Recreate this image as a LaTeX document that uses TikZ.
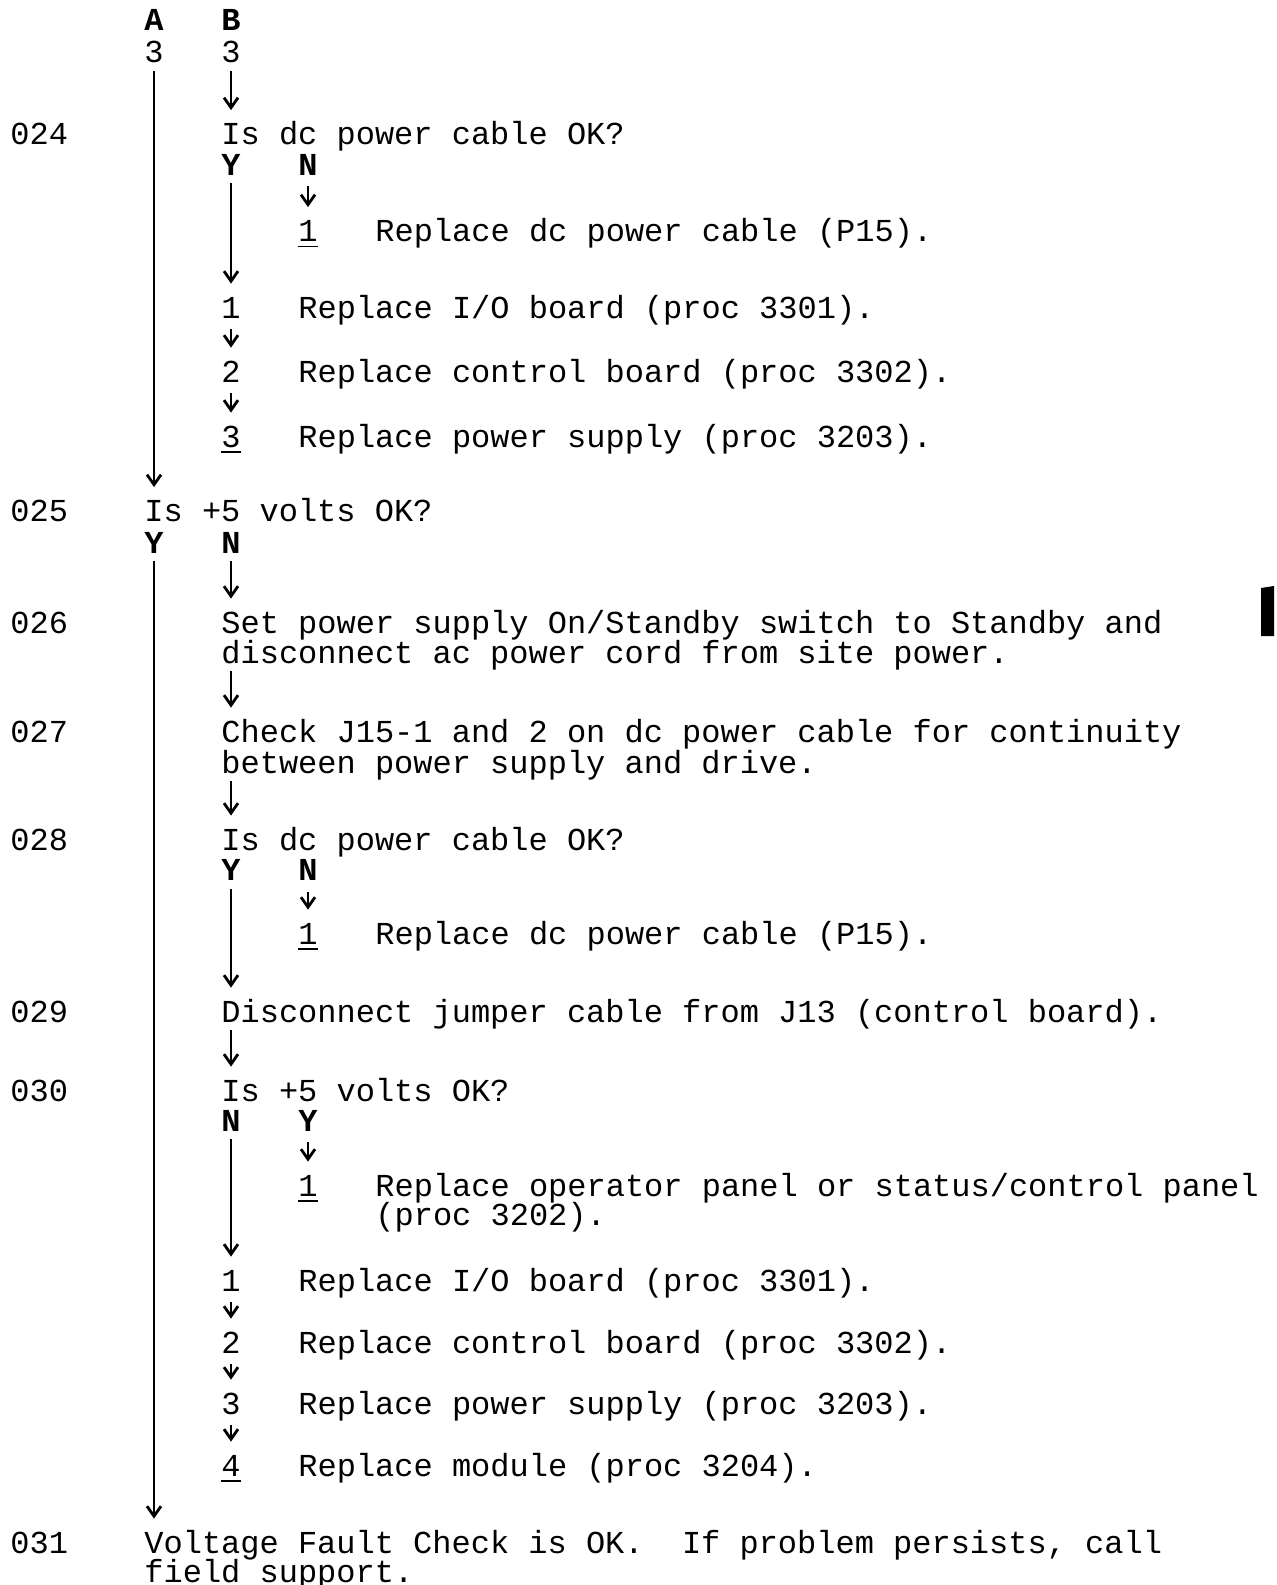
\documentclass[tikz,border=0pt]{standalone}
\usepackage{fontspec}
\setmainfont{Liberation Mono}
\usetikzlibrary{arrows.meta}
\newcommand{\ulnum}[1]{\rlap{\rule[-2.8pt]{0.6em}{0.7pt}}#1}
\tikzset{
  txt/.style={anchor=base west,inner sep=0pt,text height=11pt,text depth=3pt,
    font=\fontsize{16pt}{15pt}\selectfont},
  yn/.style={txt,font=\fontsize{16pt}{15pt}\selectfont\bfseries},
  flow/.style={draw,line width=1.4pt,-{Straight Barb[length=5pt,width=7pt]},
    shorten <=1pt,shorten >=6pt},
  stepflow/.style={flow,shorten <=2.5pt,shorten >=6pt},
}
\frenchspacing
\begin{document}
\begin{tikzpicture}[x=0.5pt,y=-0.5pt]
\useasboundingbox[fill=white] (0,0) rectangle (1277,1585);

% step numbers
\node[txt] (l024) at (10,144.5) {024};
\node[txt] (l025) at (10,521.5) {025};
\node[txt] (l026) at (10,633) {026};
\node[txt] (l027) at (10,742) {027};
\node[txt] (l028) at (10,850) {028};
\node[txt] (l029) at (10,1022) {029};
\node[txt] (l030) at (10,1101) {030};
\node[txt] (l031) at (10,1553) {031};

% entry points
\node[yn] (pa) at (144,30) {A};
\node[yn] (pb) at (221,30) {B};
\node[txt] (a3) at (144,62.5) {3};
\node[txt] (b3) at (221,62.5) {3};

% 024
\node[txt] (q024) at (221,144.5) {Is dc power cable OK?};
\node[yn] (y024) at (221,175) {Y};
\node[yn] (n024) at (298,175) {N};
\node[txt] (r024) at (298,241.5) {\ulnum{1}};
\node[txt] (t024) at (375,241.5) {Replace dc power cable (P15).};
\node[txt] (s1) at (221,318) {1};
\node[txt] (e1) at (298,318) {Replace I/O board (proc 3301).};
\node[txt] (s2) at (221,382) {2};
\node[txt] (e2) at (298,382) {Replace control board (proc 3302).};
\node[txt] (s3) at (221,447) {\ulnum{3}};
\node[txt] (e3) at (298,447) {Replace power supply (proc 3203).};

% 025 - 027
\node[txt] (q025) at (144,521.5) {Is +5 volts OK?};
\node[yn] (y025) at (144,553) {Y};
\node[yn] (n025) at (221,553) {N};
\node[txt] (s026a) at (221,633) {Set power supply On/Standby switch to Standby and};
\node[txt] (s026b) at (221,663) {disconnect ac power cord from site power.};
\node[txt] (s027a) at (221,742) {Check J15-1 and 2 on dc power cable for continuity};
\node[txt] (s027b) at (221,773) {between power supply and drive.};

% 028 - 029
\node[txt] (q028) at (221,850) {Is dc power cable OK?};
\node[yn] (y028) at (221,880.5) {Y};
\node[yn] (n028) at (298,880.5) {N};
\node[txt] (r028) at (298,944) {\ulnum{1}};
\node[txt] (t028) at (375,944) {Replace dc power cable (P15).};
\node[txt] (s029) at (221,1022) {Disconnect jumper cable from J13 (control board).};

% 030
\node[txt] (q030) at (221,1101) {Is +5 volts OK?};
\node[yn] (n030) at (221,1131) {N};
\node[yn] (y030) at (298,1131) {Y};
\node[txt] (r030) at (298,1196) {\ulnum{1}};
\node[txt] (t030a) at (375,1196) {Replace operator panel or status/control panel};
\node[txt] (t030b) at (375,1225) {(proc 3202).};
\node[txt] (u1) at (221,1291) {1};
\node[txt] (v1) at (298,1291) {Replace I/O board (proc 3301).};
\node[txt] (u2) at (221,1353) {2};
\node[txt] (v2) at (298,1353) {Replace control board (proc 3302).};
\node[txt] (u3) at (221,1414) {3};
\node[txt] (v3) at (298,1414) {Replace power supply (proc 3203).};
\node[txt] (u4) at (221,1476) {\ulnum{4}};
\node[txt] (v4) at (298,1476) {Replace module (proc 3204).};

% 031
\node[txt] (s031a) at (144,1553) {Voltage Fault Check is OK.~~If problem persists, call};
\node[txt] (s031b) at (144,1582) {field support.};

% connectors
\draw[flow] (a3) -- (a3 |- q025.north);
\draw[flow] (b3) -- (b3 |- q024.north);
\draw[flow] (y024) -- (y024 |- s1.north);
\draw[stepflow] (n024) -- (r024);
\draw[stepflow] (s1) -- (s2);
\draw[stepflow] (s2) -- (s3);
\draw[flow] (y025) -- (y025 |- s031a.north);
\draw[flow] (n025) -- (n025 |- s026a.north);
\draw[flow] (n025 |- s026b.south) -- (n025 |- s027a.north);
\draw[flow] (n025 |- s027b.south) -- (n025 |- q028.north);
\draw[flow] (y028) -- (y028 |- s029.north);
\draw[stepflow] (n028) -- (r028);
\draw[flow] (n025 |- s029.south) -- (n025 |- q030.north);
\draw[flow] (n030) -- (n030 |- u1.north);
\draw[stepflow] (y030) -- (r030);
\draw[stepflow] (u1) -- (u2);
\draw[stepflow] (u2) -- (u3);
\draw[stepflow] (u3) -- (u4);

% change bar
\fill (1261,588) -- (1274,586) -- (1274,636) -- (1261,636) -- cycle;
\end{tikzpicture}
\end{document}
